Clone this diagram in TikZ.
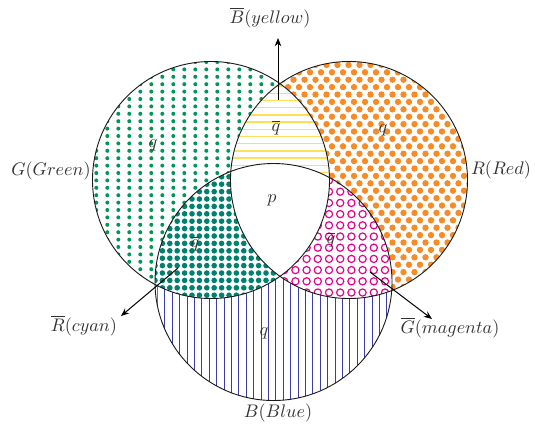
\documentclass[tikz,border=0pt]{standalone}
\usetikzlibrary{arrows.meta}
\definecolor{gdot}{RGB}{0,150,90}
\definecolor{tdot}{RGB}{0,128,110}
\definecolor{odot}{RGB}{245,140,40}
\definecolor{mcirc}{RGB}{230,0,140}
\definecolor{bline}{RGB}{60,60,165}
\definecolor{yline}{RGB}{255,222,90}
\definecolor{cline}{RGB}{40,140,215}
\definecolor{lbl}{RGB}{50,50,50}
\begin{document}
\begin{tikzpicture}[x=0.55pt,y=-0.55pt,
  outline/.style={draw=black!90,line width=0.5pt},
  arr/.style={-{Stealth[length=4.5pt,width=3.6pt]},line width=0.55pt,black},
  lab/.style={text=lbl,inner sep=1pt},
  reg/.style={text=lbl,inner sep=0.5pt}]
\useasboundingbox (0,0) rectangle (535,426);
\def\rad{118.5}
\coordinate (G) at (211,180);
\coordinate (R) at (349,180);
\coordinate (B) at (273.5,282);
% blue only
\begin{scope}
  \clip (B) circle (\rad);
  \foreach \x in {164.9,172.3,...,395} \draw[bline,line width=0.6pt] (\x,160) -- (\x,405);
  \draw[cline,line width=0.6pt] (157.5,160) -- (157.5,405);
\end{scope}
% green
\begin{scope}
  \clip (G) circle (\rad);
  \fill[white] (G) circle (\rad);
  \foreach \x in {96.3,107.3,...,335} \foreach \y in {62,69.4,...,300} \fill[gdot] (\x,\y) circle (2);
\end{scope}
% red
\begin{scope}
  \clip (R) circle (\rad);
  \fill[white] (R) circle (\rad);
  \foreach \j in {0,...,33} {
    \pgfmathsetmacro\yy{57.5+7.4*\j}
    \pgfmathsetmacro\off{mod(\j,2)*5.5}
    \foreach \i in {0,...,23} \fill[odot] ({222+\off+11*\i},\yy) circle (3.2);
  }
\end{scope}
% yellow G and R
\begin{scope}
  \clip (G) circle (\rad);
  \clip (R) circle (\rad);
  \fill[white] (G) circle (\rad);
  \foreach \y in {86.1,93.3,...,182} \draw[yline,line width=0.75pt] (220,\y) -- (340,\y);
\end{scope}
% teal G and B
\begin{scope}
  \clip (G) circle (\rad);
  \clip (B) circle (\rad);
  \fill[white] (G) circle (\rad);
  \foreach \x in {155,162.4,...,335} \foreach \y in {162,169.4,...,300} \fill[tdot] (\x,\y) circle (2.8);
\end{scope}
% magenta R and B
\begin{scope}
  \clip (R) circle (\rad);
  \clip (B) circle (\rad);
  \fill[white] (R) circle (\rad);
  \foreach \x in {228.2,239.4,...,400} \foreach \y in {169.3,180.5,...,300} \draw[mcirc,line width=0.65pt] (\x,\y) circle (3.6);
\end{scope}
% center
\begin{scope}
  \clip (G) circle (\rad);
  \clip (R) circle (\rad);
  \fill[white] (B) circle (\rad);
\end{scope}
% outlines
\draw[outline] (G) circle (\rad);
\draw[outline] (R) circle (\rad);
\draw[outline] (B) circle (\rad);
% arrows
\coordinate (ya) at (278,100);
\coordinate (yb) at (278,38);
\coordinate (ca) at (178,268);
\coordinate (cb) at (121,316);
\coordinate (ma) at (370,272);
\coordinate (mb) at (432,319);
\draw[arr] (ya) -- (yb);
\draw[arr] (ca) -- (cb);
\draw[arr] (ma) -- (mb);
% labels
\node[lab] (lyellow) at (270,18) {$\overline{B}(yellow)$};
\node[lab] (lgreen) at (51,171) {$G(Green)$};
\node[lab] (lred) at (501,170) {$R(Red)$};
\node[lab] (lcyan) at (84,326) {$\overline{R}(cyan)$};
\node[lab] (lmag) at (450,328) {$\overline{G}(magenta)$};
\node[lab] (lblue) at (278,413) {$B(Blue)$};
\node[reg] (qg) at (153,145) {$q$};
\node[reg] (qy) at (276,128) {$\overline{q}$};
\node[reg] (qr) at (383,130) {$q$};
\node[reg] (pc) at (272,200) {$p$};
\node[reg] (qt) at (195,244) {$\overline{q}$};
\node[reg] (qm) at (331,240) {$\overline{q}$};
\node[reg] (qb) at (264,333) {$q$};
\end{tikzpicture}
\end{document}
